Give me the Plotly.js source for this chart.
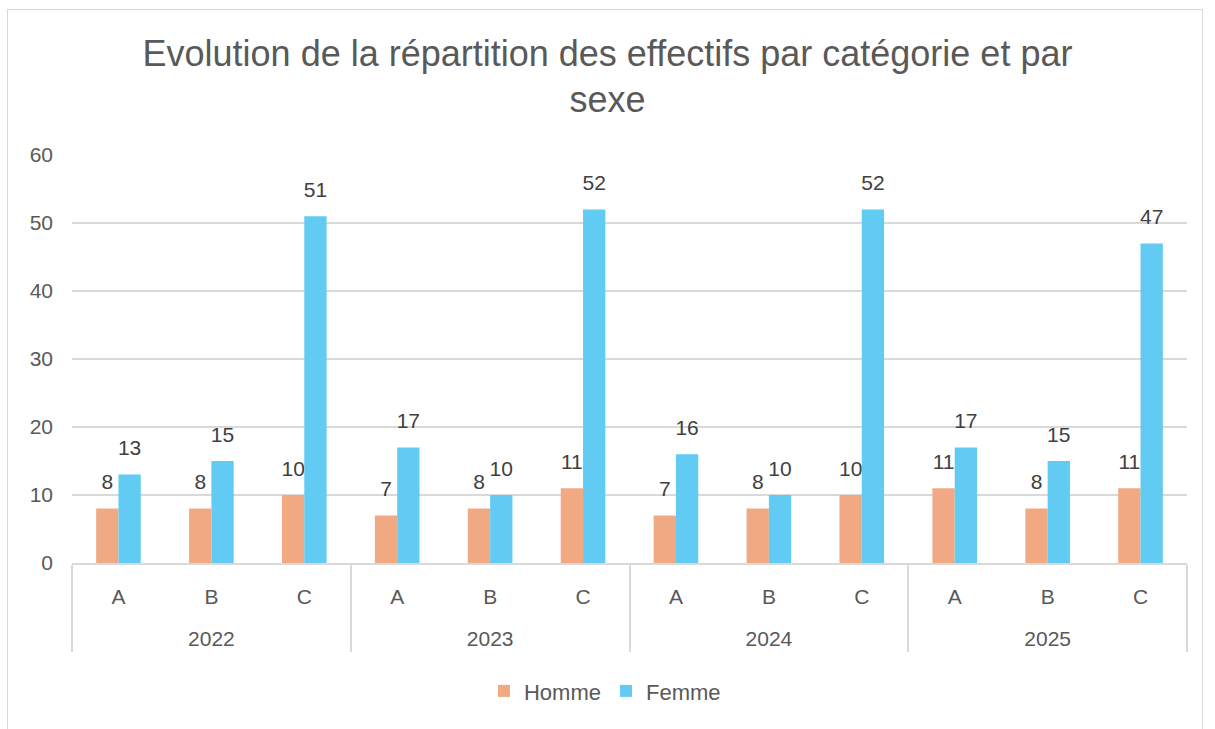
<!DOCTYPE html>
<html><head><meta charset="utf-8">
<script src="https://cdn.plot.ly/plotly-3.0.1.min.js"></script>
<style>
html,body{margin:0;padding:0;background:#fff;}
#frame{position:absolute;left:7px;top:9px;width:1196px;height:730px;border:1px solid #d9d9d9;box-sizing:border-box;}
#chart{position:absolute;left:0;top:0;width:1215px;height:729px;}
</style></head>
<body><div id="frame"></div><div id="chart"></div>
<script>
const years = ["2022","2022","2022","2023","2023","2023","2024","2024","2024","2025","2025","2025"];
const categories = ["A","B","C","A","B","C","A","B","C","A","B","C"];
const homme = [8,8,10,7,8,11,7,8,10,11,8,11];
const femme = [13,15,51,17,10,52,16,10,52,17,15,47];
const yTicks = [0,10,20,30,40,50,60];

// category row gets an extra blank line so the year row sits lower (Excel-like spacing)
const catLabels = categories.map(c => c + "<br><span style='font-size:38px'> </span>");
const labelFont = {family:"Liberation Sans, Arial, sans-serif", size:11, color:"#404040"};
const tmpl = "<span style='font-size:21px'>%{y}</span><br> ";
const traces = [
  {type:"bar", name:"Homme", x:[years,catLabels], y:homme, marker:{color:"#F1A983"},
   texttemplate:tmpl, textposition:"outside", textfont:labelFont, constraintext:"none", cliponaxis:false, hoverinfo:"skip"},
  {type:"bar", name:"Femme", x:[years,catLabels], y:femme, marker:{color:"#61CBF3"},
   texttemplate:tmpl, textposition:"outside", textfont:labelFont, constraintext:"none", cliponaxis:false, hoverinfo:"skip"}
];
const layout = {
  width:1215, height:729,
  paper_bgcolor:"rgba(0,0,0,0)", plot_bgcolor:"rgba(0,0,0,0)",
  margin:{l:72, r:28, t:155, b:166},
  barmode:"group", bargap:0.52, bargroupgap:0,
  title:{text:"Evolution de la répartition des effectifs par catégorie et par<br>sexe",
    font:{family:"Liberation Sans, Arial, sans-serif", size:36, color:"#595959"},
    x:0.5, xanchor:"center", y:0.91, yanchor:"middle"},
  font:{family:"Liberation Sans, Arial, sans-serif", color:"#595959", size:17},
  xaxis:{type:"multicategory", showgrid:false, showline:true, linecolor:"#d9d9d9", linewidth:2,
    showdividers:true, dividercolor:"#d9d9d9", dividerwidth:2, ticks:"", ticklabelstandoff:14,
    tickfont:{size:21, color:"#595959"}},
  yaxis:{range:[0,60], tickvals:yTicks, showgrid:true, gridcolor:"#d9d9d9", gridwidth:2,
    zeroline:false, showline:false, ticklabelstandoff:18, tickfont:{size:21, color:"#595959"}},
  showlegend:true,
  legend:{orientation:"h", x:0.478, xanchor:"center", y:-0.314, yanchor:"middle",
    font:{size:22, color:"#595959"}, itemwidth:30},
};
Plotly.newPlot("chart", traces, layout, {displayModeBar:false, staticPlot:true});
</script></body></html>
